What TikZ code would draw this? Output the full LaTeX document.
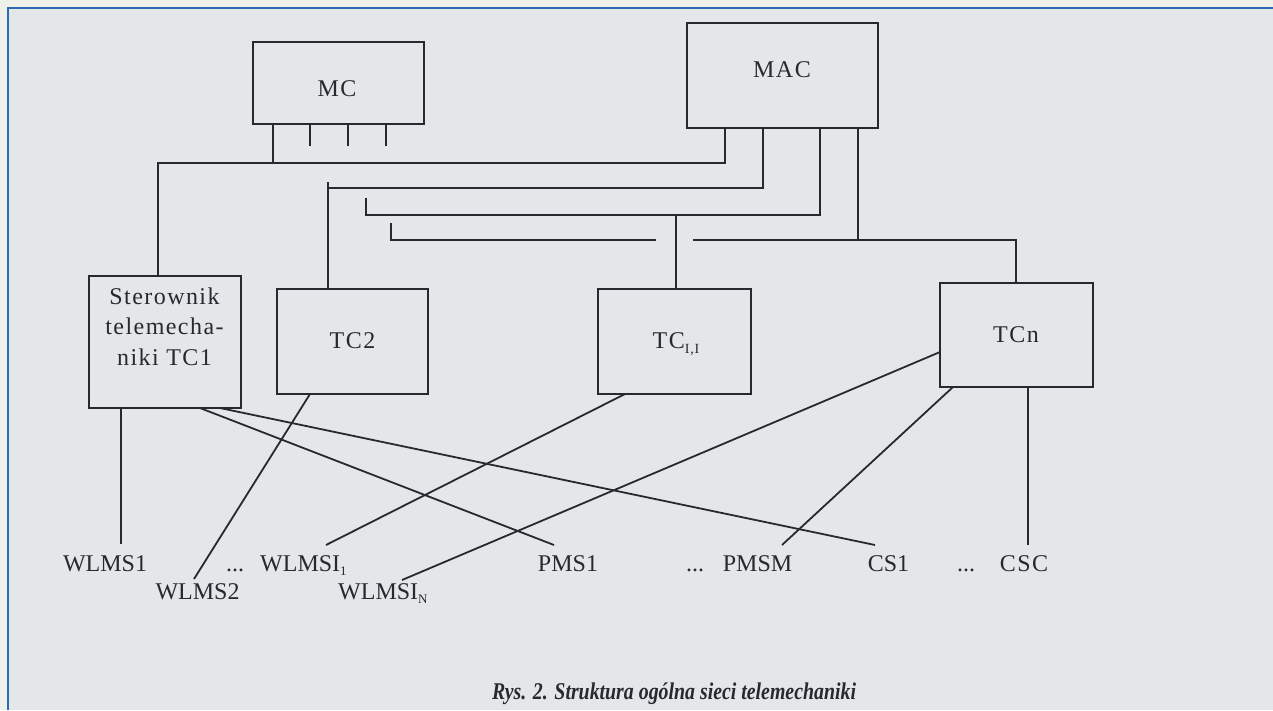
\documentclass[tikz,border=0pt]{standalone}
\usepackage{fontspec}
\usepackage{graphicx}
\setmainfont{Liberation Serif}
\newfontfamily\boxfont[LetterSpace=6]{Liberation Serif}
\usetikzlibrary{calc}
\definecolor{ink}{RGB}{38,42,46}
\definecolor{bgin}{RGB}{227,231,233}
\definecolor{bgout}{RGB}{240,240,234}
\definecolor{framec}{RGB}{47,105,178}
\begin{document}
\begin{tikzpicture}[x=1pt,y=-1pt,
  box/.style={draw=ink, line width=1.9pt, rectangle, inner sep=0pt, outer sep=0pt},
  wire/.style={draw=ink, line width=1.8pt},
  lbl/.style={inner sep=0pt, anchor=base, text=ink, font=\fontsize{24}{24}\selectfont},
  btxt/.style={inner sep=0pt, anchor=base, text=ink, font=\fontsize{24}{24}\boxfont}]
\useasboundingbox (0,0) rectangle (1273,710);
\fill[bgout] (0,0) rectangle (1273,710);
\fill[bgin] (8,8) rectangle (1273,710);
\draw[framec, line width=2.4pt] (8,710) -- (8,8) -- (1273,8);

% boxes
\node[box, minimum width=171pt, minimum height=82pt] (mc) at (338.5,83) {};
\node[box, minimum width=191pt, minimum height=105pt] (mac) at (782.5,75.5) {};
\node[box, minimum width=152pt, minimum height=132pt] (tc1) at (165,342) {};
\node[box, minimum width=151pt, minimum height=105pt] (tc2) at (352.5,341.5) {};
\node[box, minimum width=153pt, minimum height=105pt] (tc11) at (674.5,341.5) {};
\node[box, minimum width=153pt, minimum height=104pt] (tcn) at (1016.5,335) {};

% box texts
\node[btxt] (mct) at (337,96) {MC};
\node[btxt] (mact) at (782,77) {MAC};
\node[btxt] (tc1a) at (164.5,304) {Sterownik};
\node[btxt] (tc1b) at (164.5,334.5) {telemecha-};
\node[btxt] (tc1c) at (164.5,365) {niki TC1};
\node[btxt] (tc2t) at (352.5,348) {TC2};
\node[btxt] (tc11t) at (676,348) {TC\raisebox{-5pt}{\fontsize{14}{14}\selectfont I,I}};
\node[btxt] (tcnt) at (1016,342) {TCn};

% bus 1 (MC/MAC - TC1)
\coordinate (b1l) at (158,163);
\coordinate (b1r) at (725,163);
\coordinate (m1) at (273,163);
\draw[wire] (tc1.north -| b1l) -- (b1l) -- (b1r) -- (mac.south -| b1r);
\draw[wire] (mc.south -| m1) -- (m1);
\coordinate (s1) at (310,146);
\coordinate (s2) at (348,146);
\coordinate (s3) at (386,146);
\draw[wire] (mc.south -| s1) -- (s1);
\draw[wire] (mc.south -| s2) -- (s2);
\draw[wire] (mc.south -| s3) -- (s3);

% bus 2 (MAC - TC2)
\coordinate (b2t) at (328,182);
\coordinate (b2l) at (328,188);
\coordinate (b2r) at (763,188);
\draw[wire] (tc2.north -| b2t) -- (b2t);
\draw[wire] (b2l) -- (b2r) -- (mac.south -| b2r);

% bus 3 (MAC - TC I,I)
\coordinate (b3t) at (366,198);
\coordinate (b3l) at (366,215);
\coordinate (b3m) at (676,215);
\coordinate (b3r) at (820,215);
\draw[wire] (b3t) -- (b3l) -- (b3r) -- (mac.south -| b3r);
\draw[wire] (b3m) -- (tc11.north -| b3m);

% bus 4 (MAC - TCn)
\coordinate (b4t) at (391,223);
\coordinate (b4l) at (391,240);
\coordinate (b4g1) at (656,240);
\coordinate (b4g2) at (693,240);
\coordinate (b4m) at (858,240);
\coordinate (b4r) at (1016,240);
\draw[wire] (b4t) -- (b4l) -- (b4g1);
\draw[wire] (b4g2) -- (b4r) -- (tcn.north -| b4r);
\draw[wire] (b4m) -- (mac.south -| b4m);

% leaf labels
\node[lbl] (wlms1) at (105,571) {WLMS1};
\node[lbl] (dots1) at (235,571) {...};
\node[lbl, anchor=base west] (wlmsi1) at (260,571) {WLMSI\raisebox{-4pt}{\fontsize{13}{13}\selectfont 1}};
\node[lbl] (wlms2) at (197.5,599) {WLMS2};
\node[lbl, anchor=base west] (wlmsin) at (338,599) {WLMSI\raisebox{-4pt}{\fontsize{13}{13}\selectfont N}};
\node[lbl] (pms1) at (568,571) {PMS1};
\node[lbl] (dots2) at (695,571) {...};
\node[lbl] (pmsm) at (757.5,571) {PMSM};
\node[lbl] (cs1) at (888.5,571) {CS1};
\node[lbl] (dots3) at (966,571) {...};
\node[btxt] (csc) at (1024,571) {CSC};

% leaf connectors
\coordinate (eW1) at (121,544);
\coordinate (eW2) at (194,579);
\coordinate (eWI1) at (326,545);
\coordinate (eWIN) at (402,580);
\coordinate (eP1) at (554,545);
\coordinate (ePM) at (782,545);
\coordinate (eC1) at (875,545);
\coordinate (eCC) at (1028,545);
\draw[wire] (tc1.south -| eW1) -- (eW1);
\draw[wire] ($(tc1.south west)+(111,0)$) -- (eP1);
\draw[wire] ($(tc1.south west)+(131,0)$) -- (eC1);
\draw[wire] ($(tc2.south west)+(33,0)$) -- (eW2);
\draw[wire] ($(tc11.south west)+(27,0)$) -- (eWI1);
\draw[wire] ($(tcn.west)+(0,17)$) -- (eWIN);
\draw[wire] ($(tcn.south west)+(13,0)$) -- (ePM);
\draw[wire] (tcn.south -| eCC) -- (eCC);

% caption
\node[inner sep=0pt, anchor=base, text=ink] (cap) at (674,699)
  {\resizebox{364pt}{\height}{\fontsize{24}{24}\selectfont\bfseries\itshape Rys. 2. Struktura og\'olna sieci telemechaniki}};
\end{tikzpicture}
\end{document}
